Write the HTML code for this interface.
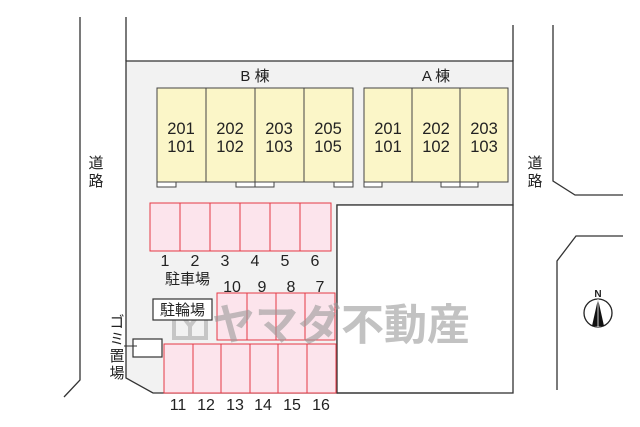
<!DOCTYPE html>
<html><head><meta charset="utf-8"><style>
html,body{margin:0;padding:0;background:#fff;}
svg{display:block;font-family:"Liberation Sans","Noto Sans CJK JP",sans-serif;}
</style></head><body>
<svg width="640" height="427" viewBox="0 0 640 427" xmlns="http://www.w3.org/2000/svg">
<polygon points="126,61 513,61 513,205 337,205 337,393 153,393 126,378" fill="#f2f2f2" stroke="#333" stroke-width="1.3"/>
<rect x="337" y="205" width="176" height="188" fill="#fff" stroke="#333" stroke-width="1.3"/>
<line x1="337" y1="393" x2="480" y2="393" stroke="#333" stroke-width="1.3"/>
<line x1="513" y1="25" x2="513" y2="61" stroke="#333" stroke-width="1.3"/>
<line x1="126" y1="17" x2="126" y2="61" stroke="#333" stroke-width="1.3"/>
<polyline points="80,17 80,380 64,397" fill="none" stroke="#333" stroke-width="1.3"/>
<polyline points="553,25 553,181 575,195 623,195" fill="none" stroke="#333" stroke-width="1.3"/>
<polyline points="623,236 576,236 557,261 557,390" fill="none" stroke="#333" stroke-width="1.3"/>
<g font-size="15" fill="#222" text-anchor="middle">
<text x="96" y="168">道</text><text x="96" y="186">路</text>
<text x="535" y="168">道</text><text x="535" y="186">路</text>
</g>
<text x="255" y="81" font-size="15" fill="#222" text-anchor="middle">B 棟</text>
<text x="436" y="81" font-size="15" fill="#222" text-anchor="middle">A 棟</text>
<g fill="#fbf6c8" stroke="#444" stroke-width="1">
<rect x="157" y="88" width="49" height="94"/><rect x="206" y="88" width="49" height="94"/>
<rect x="255" y="88" width="49" height="94"/><rect x="304" y="88" width="49" height="94"/>
<rect x="364" y="88" width="48" height="94"/><rect x="412" y="88" width="48" height="94"/>
<rect x="460" y="88" width="48" height="94"/>
</g>
<g fill="#fff" stroke="#444" stroke-width="1">
<rect x="157" y="182" width="19" height="5"/><rect x="236" y="182" width="19" height="5"/>
<rect x="255" y="182" width="19" height="5"/><rect x="334" y="182" width="19" height="5"/>
<rect x="364" y="182" width="18" height="5"/><rect x="441" y="182" width="19" height="5"/>
<rect x="460" y="182" width="18" height="5"/>
</g>
<g font-size="16.5" fill="#222" text-anchor="middle">
<text x="181" y="134">201</text><text x="181" y="152">101</text>
<text x="230" y="134">202</text><text x="230" y="152">102</text>
<text x="279" y="134">203</text><text x="279" y="152">103</text>
<text x="328" y="134">205</text><text x="328" y="152">105</text>
<text x="388" y="134">201</text><text x="388" y="152">101</text>
<text x="436" y="134">202</text><text x="436" y="152">102</text>
<text x="484" y="134">203</text><text x="484" y="152">103</text>
</g>
<g fill="#fce4ec" stroke="#e53945" stroke-width="1">
<rect x="150" y="203" width="30" height="48"/><rect x="180" y="203" width="30" height="48"/>
<rect x="210" y="203" width="30" height="48"/><rect x="240" y="203" width="30" height="48"/>
<rect x="270" y="203" width="30" height="48"/><rect x="300" y="203" width="31" height="48"/>
<rect x="217" y="293" width="30" height="47"/><rect x="247" y="293" width="29" height="47"/>
<rect x="276" y="293" width="29" height="47"/><rect x="305" y="293" width="30" height="47"/>
<rect x="164" y="344" width="29" height="49"/><rect x="193" y="344" width="28" height="49"/>
<rect x="221" y="344" width="29" height="49"/><rect x="250" y="344" width="28" height="49"/>
<rect x="278" y="344" width="29" height="49"/><rect x="307" y="344" width="29" height="49"/>
</g>
<g font-size="16" fill="#222" text-anchor="middle">
<text x="165" y="266">1</text><text x="195" y="266">2</text><text x="225" y="266">3</text>
<text x="255" y="266">4</text><text x="285" y="266">5</text><text x="315" y="266">6</text>
<text x="232" y="292">10</text><text x="262" y="292">9</text><text x="291" y="292">8</text><text x="320" y="292">7</text>
<text x="178" y="410">11</text><text x="206" y="410">12</text><text x="235" y="410">13</text>
<text x="263" y="410">14</text><text x="292" y="410">15</text><text x="321" y="410">16</text>
</g>
<text x="165" y="284" font-size="15" fill="#222">駐車場</text>
<g opacity="0.6">
<rect x="174" y="306" width="32" height="32" fill="none" stroke="#aaa" stroke-width="4"/>
<path d="M180 313 L190 326 L200 313 M190 326 L190 336" stroke="#aaa" stroke-width="4" fill="none"/>
<text x="212" y="340" font-size="43" font-weight="bold" fill="#9a9a9a">ヤマダ不動産</text>
</g>
<rect x="153" y="299" width="59" height="21" fill="#fff" stroke="#333" stroke-width="1.2"/>
<text x="182.5" y="315" font-size="15" fill="#222" text-anchor="middle">駐輪場</text>
<rect x="133" y="339" width="29" height="18" fill="#fff" stroke="#333" stroke-width="1.2"/>
<line x1="124" y1="346" x2="137" y2="346" stroke="#333"/>
<g font-size="15" fill="#222" text-anchor="middle">
<text x="117" y="327">ゴ</text><text x="117" y="344">ミ</text><text x="117" y="361">置</text><text x="117" y="378">場</text>
</g>
<text x="598" y="297" font-size="10" font-weight="bold" fill="#222" text-anchor="middle">N</text>
<circle cx="598" cy="313" r="14" fill="#fff" stroke="#222" stroke-width="1.3"/>
<polygon points="598,299 592,326 604,326" fill="#111"/>
<line x1="598" y1="299" x2="598" y2="327" stroke="#fff" stroke-width="0.8"/>
</svg>
</body></html>
